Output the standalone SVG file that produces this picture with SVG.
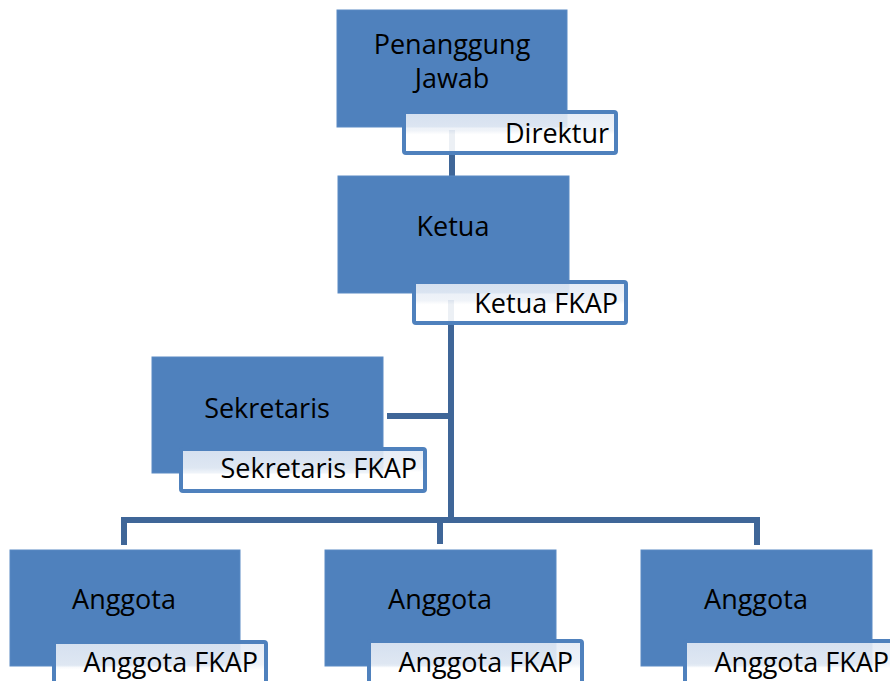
<svg xmlns="http://www.w3.org/2000/svg" width="890" height="681" viewBox="0 0 890 681">
<defs>
<linearGradient id="lg" x1="0" y1="0" x2="0" y2="1">
<stop offset="0" stop-color="#e3eaf5"/>
<stop offset="0.45" stop-color="#eef2f8"/>
<stop offset="0.55" stop-color="#ffffff"/>
<stop offset="1" stop-color="#ffffff"/>
</linearGradient>
</defs>
<style>
.box{fill:#4f81bd;stroke:#5a8ac4;stroke-width:1}
.lab{fill:url(#lg);fill-opacity:0.9;stroke:#4f81bd;stroke-width:4}
.t{font-family:"Open Sans","Liberation Sans",Arial,sans-serif;font-size:27px;fill:#000}
.c{text-anchor:middle}
.e{text-anchor:end}
.ln{fill:none;stroke:#3f6698;stroke-width:6;stroke-linejoin:miter}
</style>
<rect width="890" height="681" fill="#fff"/>
<g id="connectors">
<path class="ln" d="M452,130 V177"/>
<path class="ln" d="M451,300 V520"/>
<path class="ln" d="M387,416 H451"/>
<path class="ln" d="M124,545 V520 H757 V545"/>
<path class="ln" d="M440,520 V544"/>
</g>
<g id="n-penanggung">
<rect class="box" x="337" y="10" width="230" height="117"/>
<text class="t c" x="452" y="54">Penanggung</text>
<text class="t c" x="452" y="88">Jawab</text>
<rect class="lab" x="404" y="112" width="212" height="41" rx="2"/>
<text class="t e" x="609" y="143">Direktur</text>
</g>
<g id="n-ketua">
<rect class="box" x="338" y="176" width="231" height="117"/>
<text class="t c" x="453" y="236">Ketua</text>
<rect class="lab" x="414" y="282" width="212" height="41" rx="2"/>
<text class="t e" x="618" y="313">Ketua FKAP</text>
</g>
<g id="n-sekretaris">
<rect class="box" x="152" y="357" width="231" height="116"/>
<text class="t c" x="267" y="418">Sekretaris</text>
<rect class="lab" x="181" y="449" width="244" height="42" rx="2"/>
<text class="t e" x="417" y="478">Sekretaris FKAP</text>
</g>
<g id="n-anggota1">
<rect class="box" x="10" y="550" width="230" height="116"/>
<text class="t c" x="124" y="609">Anggota</text>
<rect class="lab" x="54" y="642" width="212" height="50" rx="2"/>
<text class="t e" x="258" y="672">Anggota FKAP</text>
</g>
<g id="n-anggota2">
<rect class="box" x="325" y="550" width="231" height="116"/>
<text class="t c" x="440" y="609">Anggota</text>
<rect class="lab" x="369" y="641" width="213" height="50" rx="2"/>
<text class="t e" x="573" y="672">Anggota FKAP</text>
</g>
<g id="n-anggota3">
<rect class="box" x="641" y="550" width="231" height="116"/>
<text class="t c" x="756" y="609">Anggota</text>
<rect class="lab" x="685" y="641" width="213" height="50" rx="2"/>
<text class="t e" x="889" y="672">Anggota FKAP</text>
</g>
</svg>
